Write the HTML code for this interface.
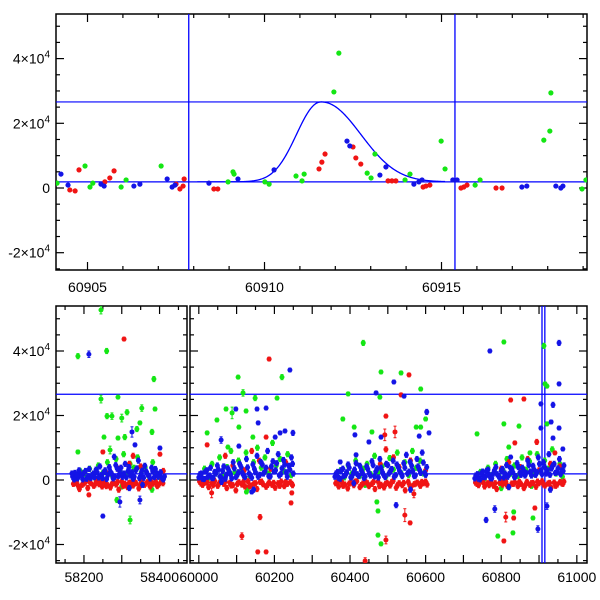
<!DOCTYPE html>
<html><head><meta charset="utf-8"><style>
html,body{margin:0;padding:0;background:#fff}
svg{display:block;font-family:"Liberation Sans",Arial,sans-serif}
</style></head><body>
<svg id="chart" width="600" height="600" viewBox="0 0 600 600"></svg>
<script>
// ---------- DATA (mjd, flux in units of 1e3, optional error) ----------
const topGreen=[[60904.14,1.5],[60904.93,6.8],[60905.07,0.3],[60905.15,1.5],[60905.95,0.3],[60906.09,2.5],[60907.08,6.8],[60908.97,1.9],[60909.11,5.0],[60909.14,4.3],[60910.01,1.9],[60910.13,1.2],[60910.89,3.7],[60911.06,2.2],[60911.12,4.3],[60911.96,29.7],[60912.10,41.7],[60912.90,4.6],[60913.01,3.1],[60913.12,10.5],[60913.97,2.5],[60914.11,4.3],[60914.99,14.5],[60915.10,5.9],[60915.95,0.9],[60916.09,2.5],[60917.89,14.8],[60918.06,17.6],[60918.09,29.4],[60918.97,-0.3],[60919.08,2.5]];
const topRed=[[60904.50,-0.6],[60904.65,-0.9],[60904.76,5.6],[60905.49,1.9],[60905.63,3.1],[60905.75,5.3],[60907.50,1.2],[60907.61,-0.3],[60907.70,0.6],[60907.73,2.8],[60908.57,-0.3],[60908.68,-0.3],[60911.54,5.9],[60911.62,8.0],[60911.71,10.5],[60912.50,12.7],[60912.58,9.3],[60912.72,7.4],[60913.49,2.2],[60913.60,2.2],[60913.71,2.2],[60914.48,0.3],[60914.56,0.6],[60914.67,0.9],[60915.55,0.0],[60915.63,0.3],[60915.72,0.9],[60916.54,0.0],[60916.71,0.0]];
const topBlue=[[60904.25,4.3],[60904.45,0.9],[60905.38,1.2],[60905.47,0.6],[60906.31,0.6],[60906.48,1.2],[60907.25,2.8],[60907.39,0.3],[60907.47,0.9],[60908.43,1.5],[60909.25,2.8],[60910.27,5.6],[60912.33,14.5],[60912.41,13.0],[60913.26,4.0],[60913.43,6.5],[60914.22,1.2],[60914.36,1.9],[60914.45,2.5],[60915.32,2.5],[60915.44,2.5],[60917.27,0.3],[60917.41,0.6],[60918.23,0.6],[60918.37,0.0],[60918.43,0.6]];
// model parameters
const modelPeakMjd=60911.6, modelAmp=24.7, modelBase=1.9, modelWidthL=0.95, modelWidthR=1.53, modelPow=2.1;
const modelRange=[60908.1,60915.1];
const hLineValues=[26.6,1.9];
const vLineValues=[60907.86,60915.38];
// bottom panel: outliers
const outGreen=[[58245,52.7,1.2],[58184,38.4,0.8],[58260,40,0.8],[58385,31.3,0.8],[58245,25.1,1.2],[58290,25.7,0.6],[58353,22.3,1.0],[58388,22,0.6],[58261,19.8,0.8],[58274,19.8,1.0],[58300,19.2,1.2],[58314,21,0.8],[58253,13.3,0.6],[58348,17.7,0.6],[58380,14.9,0.8],[58184,8.7,0.6],[58269,9.3,1.2],[58322,-12.4,1.2],[58287,-6.2,0.8],[58308,13.3,0.8],[58290,13,0.6],[58340,15.8,0.8],
[60104,31.9,0.6],[60117,27,1.0],[60088,20.8,1.8],[60072,22,0.6],[60048,18.6,0.6],[60125,21.4,0.6],[60149,25.4,0.8],[60220,31.9,0.8],[60207,25.4,0.6],[60106,16.4,0.6],[60022,14.6,0.6],[60077,10.2,0.6],[60126,-3.7,0.6],[60143,13.3,0.6],
[60435,42.5,0.8],[60482,33.5,0.6],[60535,33.2,0.6],[60395,26.7,0.6],[60479,25.7,0.6],[60587,28.2,0.6],[60381,18.9,0.6],[60600,18.9,0.6],[60411,16.4,0.6],[60458,14.9,0.6],[60575,16.4,0.6],[60587,16.4,0.6],[60471,-6.8,0.6],[60474,-9.6,0.6],[60474,-17.1,0.6],[60482,-19.8,0.6],
[60807,42.8,0.6],[60913,41.6,0.8],[60916,29.8,0.6],[60921,29.1,0.6],[60736,14.3,0.6],[60807,17.4,0.6],[60847,16.7,0.6],[60921,17.4,0.6],[60820,10.2,0.6],[60876,8.4,0.6],[60791,-17.4,0.6],[60833,-9.9,0.6],[60831,-16.4,0.6],[60884,-11.8,0.6]];
const outRed=[[58306,43.7,0.6],[58250,8.7,0.6],[58401,8.0,0.6],[58213,-4.6,0.6],
[60186,37.5,0.6],[60022,10.9,0.6],[60178,13.3,0.6],[60114,-17.4,1.0],[60162,-11.5,0.8],[60156,-22.3,0.6],[60178,-22.3,0.6],[60244,-7.1,0.6],[60246,-4.0,0.6],[60034,-4.0,1.5],
[60556,32.6,0.6],[60535,26.4,0.6],[60495,19.8,0.6],[60492,14.0,1.8],[60519,14.9,1.8],[60545,-10.9,2.0],[60559,-13.3,0.6],[60495,-18.6,1.2],[60440,-25.1,1.0],[60569,-4.3,1.2],
[60825,24.8,0.6],[60860,25.1,0.6],[60836,11.5,0.6],[60894,11.8,0.8],[60942,8.4,0.6],[60807,-18.9,0.6],[60812,-11.5,1.5],[60833,-11.8,0.6],[60889,-8.7,0.6]];
const outBlue=[[58213,39,1.0],[58327,14.9,1.6],[58335,10.9,0.6],[58401,9.9,0.6],[58250,-11.2,0.6],[58295,-6.8,1.6],[58348,-6.2,1.2],
[60098,22,0.6],[60154,22,0.6],[60178,22.3,0.6],[60241,34.1,0.6],[60157,17.7,0.6],[60059,12.4,1.0],[60106,10.5,0.6],[60202,13.3,0.6],[60228,15.2,0.6],[60249,14.6,0.8],[60215,14.6,0.6],[60140,-3.7,0.6],
[60516,30.4,0.6],[60469,27,0.6],[60543,26,0.6],[60603,21.1,0.8],[60413,14,0.6],[60482,13.3,0.6],[60583,13.6,0.6],[60609,14.6,0.6],[60450,11.8,0.6],[60416,7.8,0.6],[60522,-7.8,0.8],[60374,5.6,0.6],
[60770,40,0.6],[60953,42.5,0.8],[60953,29.8,0.6],[60905,23.6,0.6],[60937,23.3,0.8],[60905,16.1,0.6],[60932,18,0.6],[60953,16.1,0.6],[60937,13,0.6],[60825,7.1,0.6],[60963,9.6,0.6],[60760,-12.4,0.8],[60783,-9.0,1.0],[60897,-15.2,1.0],[60921,-8.1,1.0]];
// bottom panel: dense baseline bands
const bandRed=[[58172,-1.2],[58180,-0.5],[58188,-2.8],[58195,-1.5],[58203,-0.8],[58210,-2.5],[58218,-1.0],[58226,-1.8],[58233,-0.3],[58240,-1.3],[58248,-2.0],[58255,-0.6],[58262,-1.6],[58270,-2.3],[58278,-0.9],[58285,-1.4],[58292,-3.0],[58300,-0.5],[58308,-1.2],[58315,-2.2],[58322,-0.8],[58330,-1.7],[58338,-1.0],[58345,-2.6],[58352,-0.4],[58360,-1.5],[58368,-0.7],[58375,-2.0],[58383,-1.1],[58390,-0.6],[58398,-1.4],[58405,-0.3],[58290,3.5],[58320,5.0],[58350,4.2],[58265,2.0],[58330,7.5],[58410,2.8],
[60002,-0.5],[60010,-1.5],[60018,-0.8],[60026,-2.2],[60034,-1.0],[60042,-0.3],[60050,-1.8],[60058,-0.6],[60066,-1.2],[60074,-2.5],[60082,-0.9],[60090,-1.6],[60098,-3.2],[60106,-0.7],[60114,-1.4],[60122,-2.0],[60130,-0.4],[60138,-1.7],[60146,-1.1],[60154,-2.8],[60162,-0.6],[60170,-1.3],[60178,-2.1],[60186,-0.8],[60194,-1.5],[60202,-2.4],[60210,-1.0],[60218,-0.5],[60226,-1.9],[60234,-1.2],[60242,-0.7],[60248,-1.6],[60090,4.5],[60140,9.0],[60160,6.0],[60190,3.5],[60120,3.0],[60230,5.5],[60070,7.5],
[60362,-1.0],[60370,-2.0],[60378,-0.6],[60386,-1.4],[60394,-2.6],[60402,-0.8],[60410,-1.6],[60418,-0.4],[60426,-2.2],[60434,-1.1],[60442,-0.7],[60450,-1.9],[60458,-1.2],[60466,-2.8],[60474,-0.5],[60482,-1.5],[60490,-2.3],[60498,-0.9],[60506,-1.7],[60514,-0.3],[60522,-2.4],[60530,-1.0],[60538,-1.6],[60546,-3.2],[60554,-0.6],[60562,-2.0],[60570,-1.3],[60578,-0.8],[60586,-1.8],[60594,-1.0],[60600,-0.5],[60495,9.5],[60515,7.0],[60480,5.0],[60530,4.0],[60560,6.0],[60600,3.0],
[60732,-0.8],[60740,-1.6],[60748,-0.4],[60756,-2.0],[60764,-1.0],[60772,-0.6],[60780,-1.8],[60788,-2.8],[60796,-0.9],[60804,-1.4],[60812,-0.5],[60820,-2.2],[60828,-1.1],[60836,-0.7],[60844,-1.9],[60852,-1.2],[60860,-2.5],[60868,-0.6],[60876,-1.5],[60884,-0.9],[60892,-2.1],[60900,-1.0],[60908,-0.4],[60916,-1.7],[60924,-1.1],[60932,-2.4],[60940,-0.8],[60948,-1.4],[60956,-0.6],[60963,-1.2],[60800,3.5],[60820,5.5],[60850,4.0],[60870,6.5],[60900,3.0],[60930,5.0],[60955,4.2]];
const bandRed2=[[58176,-0.9],[58184,-1.7],[58199,-1.1],[58214,-0.4],[58229,-1.4],[58244,-0.8],[58259,-1.9],[58274,-1.2],[58289,-0.6],[58304,-1.8],[58319,-1.0],[58334,-0.5],[58349,-1.6],[58364,-1.1],[58379,-0.7],[58394,-1.9],[58409,-1.0],
[60006,-1.1],[60022,-0.6],[60038,-1.6],[60054,-1.0],[60070,-0.5],[60086,-1.7],[60102,-1.2],[60118,-0.6],[60134,-1.9],[60150,-1.0],[60166,-0.5],[60182,-1.5],[60198,-0.9],[60214,-1.8],[60230,-0.6],[60246,-1.2],
[60366,-0.7],[60382,-1.8],[60398,-1.1],[60414,-0.5],[60430,-1.6],[60446,-1.0],[60462,-0.6],[60478,-1.9],[60494,-1.2],[60510,-0.7],[60526,-1.5],[60542,-0.9],[60558,-1.7],[60574,-1.1],[60590,-0.6],[60604,-1.4],
[60736,-1.2],[60752,-0.6],[60768,-1.6],[60784,-1.0],[60800,-0.5],[60816,-1.8],[60832,-1.2],[60848,-0.6],[60864,-1.5],[60880,-1.0],[60896,-0.5],[60912,-1.4],[60928,-0.9],[60944,-1.8],[60960,-1.0],[60966,-0.5]];
const bandGreen=[[58175,0.5],[58190,2.8],[58205,1.5],[58215,3.5],[58228,0.8],[58238,4.5],[58250,2.2],[58262,5.5],[58275,1.2],[58285,6.5],[58295,3.0],[58305,8.0],[58312,1.8],[58322,5.0],[58332,3.8],[58342,7.0],[58352,2.5],[58362,4.0],[58372,1.0],[58382,5.5],[58392,2.0],[58402,0.6],[58300,-2.0],[58380,-3.0],
[60005,1.0],[60015,3.5],[60025,0.5],[60035,5.0],[60045,2.0],[60055,7.0],[60065,1.5],[60075,4.0],[60085,9.0],[60095,2.5],[60105,6.0],[60115,3.0],[60125,8.5],[60135,1.2],[60145,5.5],[60155,10.0],[60165,3.8],[60175,7.0],[60185,2.0],[60195,11.5],[60205,4.5],[60215,6.5],[60225,2.8],[60235,8.0],[60245,1.5],[60130,-2.5],
[60365,1.5],[60375,3.0],[60385,0.8],[60395,4.5],[60405,2.0],[60415,6.0],[60425,1.2],[60435,3.5],[60445,5.0],[60455,1.8],[60465,7.5],[60475,2.5],[60485,4.2],[60495,1.0],[60505,6.8],[60515,3.2],[60525,8.5],[60535,2.2],[60545,5.5],[60555,1.5],[60565,9.0],[60575,3.8],[60585,6.0],[60595,2.0],[60440,-1.5],[60560,-2.0],
[60735,0.8],[60745,2.5],[60755,0.3],[60765,3.8],[60775,1.5],[60785,5.0],[60795,1.0],[60805,3.0],[60815,6.5],[60825,2.0],[60835,4.5],[60845,1.2],[60855,7.0],[60865,3.2],[60875,5.8],[60885,1.8],[60895,8.0],[60905,2.5],[60915,6.0],[60925,3.5],[60935,9.5],[60945,2.0],[60955,5.0],[60962,1.0],[60800,-2.5],[60880,-1.8]];
const bandBlue=[[58170,1.0],[58176,2.2],[58183,0.5],[58190,1.8],[58197,0.2],[58204,2.8],[58211,1.2],[58218,0.6],[58225,2.0],[58232,3.2],[58239,0.8],[58246,1.5],[58253,2.5],[58260,0.3],[58267,4.0],[58274,1.8],[58281,0.9],[58288,3.5],[58295,2.2],[58302,1.0],[58309,5.0],[58316,2.7],[58323,1.4],[58330,0.4],[58337,3.0],[58344,6.0],[58351,1.9],[58358,0.7],[58365,2.6],[58372,1.2],[58379,3.8],[58386,0.9],[58393,2.0],[58400,1.4],[58407,0.5],[58413,1.1],[58280,7.2],[58320,-2.5],[58355,-1.5],
[60000,0.8],[60007,2.0],[60014,0.3],[60021,3.0],[60028,1.4],[60035,0.6],[60042,2.5],[60049,4.5],[60056,1.0],[60063,2.8],[60070,0.4],[60077,3.6],[60084,1.8],[60091,5.5],[60098,0.9],[60105,2.4],[60112,4.0],[60119,1.3],[60126,6.5],[60133,2.0],[60140,0.7],[60147,3.4],[60154,7.5],[60161,1.6],[60168,4.8],[60175,2.6],[60182,9.0],[60189,1.1],[60196,5.8],[60203,3.0],[60210,8.0],[60217,1.9],[60224,6.2],[60231,2.4],[60238,4.4],[60245,7.0],[60250,2.0],[60145,-3.0],[60060,-0.6],
[60360,1.0],[60367,2.5],[60374,0.4],[60381,3.5],[60388,1.6],[60395,4.8],[60402,0.8],[60409,2.2],[60416,5.2],[60423,1.3],[60430,3.0],[60437,0.6],[60444,4.2],[60451,2.0],[60458,5.8],[60465,1.1],[60472,3.6],[60479,6.5],[60486,2.4],[60493,0.9],[60500,4.6],[60507,2.8],[60514,6.0],[60521,1.5],[60528,3.9],[60535,2.0],[60542,5.2],[60549,7.8],[60556,2.6],[60563,4.4],[60570,1.2],[60577,6.5],[60584,3.1],[60591,8.5],[60598,2.2],[60603,4.0],[60410,-1.0],[60560,-3.0],
[60730,0.5],[60737,1.8],[60744,0.2],[60751,2.6],[60758,1.0],[60765,3.2],[60772,0.6],[60779,2.0],[60786,4.0],[60793,1.2],[60800,2.8],[60807,0.8],[60814,4.6],[60821,1.8],[60828,3.4],[60835,0.9],[60842,5.2],[60849,2.2],[60856,3.8],[60863,1.4],[60870,6.0],[60877,2.6],[60884,4.4],[60891,1.6],[60898,7.0],[60905,3.0],[60912,5.5],[60919,2.0],[60926,8.0],[60933,3.6],[60940,5.0],[60947,2.4],[60954,6.5],[60961,3.0],[60966,4.5],[60820,-2.2],[60930,-3.0]];
const bandBlue2=[[58168,2.0],[58174,0.2],[58181,1.6],[58187,3.0],[58194,1.0],[58200,2.2],[58207,0.4],[58214,3.4],[58221,1.5],[58228,0.9],[58235,2.4],[58242,4.2],[58249,0.6],[58256,3.0],[58263,1.6],[58270,2.6],[58277,0.5],[58284,4.6],[58291,1.2],[58298,3.8],[58305,2.0],[58312,0.8],[58319,4.0],[58326,2.4],[58333,1.0],[58340,3.6],[58347,0.6],[58354,2.9],[58361,4.4],[58368,1.8],[58375,0.5],[58382,2.6],[58389,3.4],[58396,1.0],[58403,2.4],[58410,0.2],
[60003,1.8],[60010,0.4],[60017,2.6],[60024,1.0],[60031,3.8],[60038,0.6],[60045,2.0],[60052,3.2],[60059,0.8],[60066,4.2],[60073,1.6],[60080,2.8],[60087,0.5],[60094,3.6],[60101,1.4],[60108,5.0],[60115,2.2],[60122,0.9],[60129,3.9],[60136,1.5],[60143,4.8],[60150,2.4],[60157,1.0],[60164,5.6],[60171,2.0],[60178,3.8],[60185,1.2],[60192,4.2],[60199,2.6],[60206,5.2],[60213,1.4],[60220,3.6],[60227,4.8],[60234,1.0],[60241,3.2],[60248,5.0],
[60363,2.0],[60370,0.6],[60377,3.0],[60384,1.2],[60391,2.4],[60398,3.8],[60405,1.0],[60412,3.2],[60419,1.8],[60426,4.4],[60433,2.2],[60440,1.0],[60447,3.4],[60454,1.4],[60461,4.6],[60468,2.6],[60475,0.8],[60482,3.8],[60489,1.6],[60496,5.0],[60503,2.0],[60510,3.4],[60517,1.0],[60524,4.8],[60531,2.8],[60538,1.2],[60545,3.8],[60552,2.0],[60559,5.6],[60566,2.8],[60573,1.4],[60580,4.2],[60587,2.2],[60594,5.4],[60600,1.6],
[60733,1.4],[60740,0.4],[60747,2.0],[60754,0.9],[60761,2.8],[60768,1.6],[60775,0.5],[60782,3.0],[60789,1.8],[60796,0.7],[60803,3.4],[60810,2.0],[60817,1.0],[60824,3.8],[60831,2.4],[60838,1.2],[60845,4.0],[60852,1.6],[60859,3.0],[60866,2.2],[60873,4.6],[60880,1.4],[60887,3.2],[60894,2.4],[60901,5.0],[60908,1.8],[60915,4.0],[60922,3.0],[60929,1.6],[60936,4.4],[60943,2.2],[60950,3.6],[60957,1.8],[60964,2.8]];
const yTickLabels=[40,20,0,-20];
const topXTicks=[60905,60910,60915];
const botLeftTicks=[58200,58400];
const botRightTicks=[60000,60200,60400,60600,60800,61000];

// ---------- SCALES ----------
const NS='http://www.w3.org/2000/svg';
const svg=document.getElementById('chart');
const COL={g:'#14e614',r:'#f01414',b:'#1414e6'};
const LINE='#0000ff';
function el(tag,attrs,parent){const e=document.createElementNS(NS,tag);for(const k in attrs)e.setAttribute(k,attrs[k]);(parent||svg).appendChild(e);return e;}
const panels={
 top:{x0:56,x1:587,y0:14,y1:270,d0:60904.11,d1:60919.11,yz:188,ys:3.235},
 bl:{x0:56,x1:187,y0:306,y1:563,d0:58126,d1:58472.6,yz:480,ys:3.225},
 br:{x0:190,x1:587,y0:306,y1:563,d0:59976.7,d1:61026.9,yz:480,ys:3.225}
};
function X(p,m){return p.x0+(m-p.d0)/(p.d1-p.d0)*(p.x1-p.x0);}
function Y(p,f){return p.yz-f*p.ys;}
const defs=el('defs',{});
Object.keys(panels).forEach(k=>{const p=panels[k];const c=el('clipPath',{id:'clip-'+k},defs);el('rect',{x:p.x0,y:p.y0,width:p.x1-p.x0,height:p.y1-p.y0},c);});

function frame(k,name){
 const p=panels[k];
 const g=el('g',{});
 
 
 el('rect',{x:p.x0,y:p.y0,width:p.x1-p.x0,height:p.y1-p.y0,fill:'none',stroke:'#000','stroke-width':1.5},g);
 for(let f=-25;f<=55;f+=5){const y=Y(p,f);if(y<p.y0||y>p.y1)continue;const L=(f%20===0)?8:4;
  el('line',{x1:p.x0,x2:p.x0+L,y1:y,y2:y,stroke:'#000','stroke-width':1.2},g);
  el('line',{x1:p.x1,x2:p.x1-L,y1:y,y2:y,stroke:'#000','stroke-width':1.2},g);}
 return g;
}
function xticks(k,g,minor,major){const p=panels[k];
 const s=Math.ceil(p.d0/minor)*minor;
 for(let m=s;m<=p.d1;m+=minor){const x=X(p,m);const L=(Math.round(m)%major===0)?8:4;
  el('line',{x1:x,x2:x,y1:p.y1,y2:p.y1-L,stroke:'#000','stroke-width':1.2},g);
  el('line',{x1:x,x2:x,y1:p.y0,y2:p.y0+L,stroke:'#000','stroke-width':1.2},g);}
}
function ylabels(k,g){const p=panels[k];
 yTickLabels.forEach(v=>{const t=el('text',{x:50,y:Y(p,v)+5,'text-anchor':'end','font-size':14,fill:'#000'},g);
  
  
  if(v===0){t.textContent='0';}else{t.textContent=(v<0?'-':'')+String(Math.abs(v)/10)+'×10';const s=el('tspan',{dy:-6,'font-size':10},t);s.textContent='4';}});
}
function xlabels(k,g,ticks,yy){const p=panels[k];
 ticks.forEach(v=>{const t=el('text',{x:X(p,v),y:yy,'text-anchor':'middle','font-size':14,fill:'#000'},g);
  
  
  t.textContent=String(v);});
}
function refLines(k,g,vw){const p=panels[k];
 hLineValues.forEach(v=>{const y=Y(p,v);const l=el('line',{x1:p.x0,x2:p.x1,y1:y,y2:y,stroke:LINE,'stroke-width':1.2},g);
  
  });
 vLineValues.forEach(v=>{const x=X(p,v);const l=el('line',{x1:x,x2:x,y1:p.y0,y2:p.y1,stroke:LINE,'stroke-width':vw},g);
  
  });
}
function points(k,g,arr,col,r,err){const p=panels[k];
 arr.forEach(d=>{const x=X(p,d[0]),y=Y(p,d[1]);
  if(err){const e=(d[2]||0.8)*p.ys;
   el('line',{x1:x,x2:x,y1:y-e,y2:y+e,stroke:col,'stroke-width':1},g);
   el('line',{x1:x-1.5,x2:x+1.5,y1:y-e,y2:y-e,stroke:col,'stroke-width':1},g);
   el('line',{x1:x-1.5,x2:x+1.5,y1:y+e,y2:y+e,stroke:col,'stroke-width':1},g);}
  const c=el('circle',{cx:x,cy:y,r:r,fill:col},g);
  
  });
}

// ---------- TOP PANEL ----------
const gt=frame('top','top-panel');
xticks('top',gt,1,5);
ylabels('top',gt);
xlabels('top',gt,topXTicks,292);
const ct=el('g',{'clip-path':'url(#clip-top)'});


refLines('top',ct,1.3);
{const p=panels.top;let dd='';
 for(let m=modelRange[0];m<=modelRange[1]+1e-9;m+=0.02){const dx=m-modelPeakMjd;const w=dx<0?modelWidthL:modelWidthR;
  const f=modelBase+modelAmp*Math.exp(-Math.pow(Math.abs(dx)/w,modelPow));
  dd+=(dd?'L':'M')+X(p,m).toFixed(2)+','+Y(p,f).toFixed(2);}
 const mc=el('path',{d:dd,fill:'none',stroke:LINE,'stroke-width':1.3},ct);
 
 }
points('top',ct,topGreen,COL.g,2.6,false);
points('top',ct,topRed,COL.r,2.6,false);
points('top',ct,topBlue,COL.b,2.6,false);

// ---------- BOTTOM PANELS ----------
const gbl=frame('bl','bottom-left-panel');
xticks('bl',gbl,50,100);
ylabels('bl',gbl);
xlabels('bl',gbl,botLeftTicks,582);
const gbr=frame('br','bottom-right-panel');
xticks('br',gbr,50,100);
xlabels('br',gbr,botRightTicks,582);
['bl','br'].forEach(k=>{
 const c=el('g',{'clip-path':'url(#clip-'+k+')'});
 
 
 refLines(k,c,1.3);
 points(k,c,bandGreen.concat(outGreen),COL.g,2.5,true);
 points(k,c,bandRed.concat(bandRed2,outRed),COL.r,2.5,true);
 points(k,c,bandBlue.concat(bandBlue2,outBlue),COL.b,2.5,true);
});
</script>
</body></html>
